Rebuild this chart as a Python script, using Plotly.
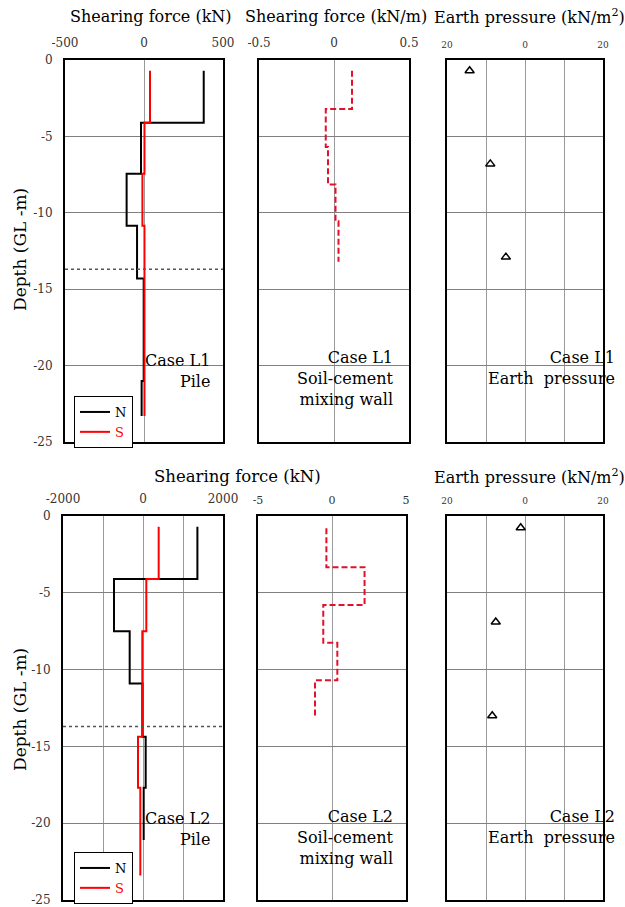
import plotly.graph_objects as go

# ---------------- data ----------------
# Case L1 - pile shearing force (kN): segment boundaries (depth, m) and values
L1_N_depth = [-0.7, -4.1, -7.45, -10.85, -14.3, -21.0, -23.3]
L1_N_force = [378, -19, -110, -44, -2, -15]
L1_S_depth = [-0.7, -4.1, -7.45, -10.85, -23.3]
L1_S_force = [38, 3, -10, 3]
# Case L1 - soil-cement mixing wall shearing force (kN/m)
L1_wall_depth = [-0.7, -3.2, -5.7, -8.15, -10.55, -13.2]
L1_wall_force = [0.12, -0.055, -0.04, 0.01, 0.03]
# Case L1 - earth pressure (kN/m2)
L1_ep_depth = [-0.7, -6.8, -12.9]
L1_ep_value = [-14.2, -8.9, -4.9]

# Case L2 - pile shearing force (kN)
L2_N_depth = [-0.7, -4.1, -7.5, -10.9, -14.37, -17.7, -21.1]
L2_N_force = [1360, -725, -333, -15, 67, 17]
L2_S_depth = [-0.7, -4.1, -7.5, -14.37, -17.7, -23.4]
L2_S_force = [392, 83, -17, -125, -67]
# Case L2 - soil-cement mixing wall shearing force (kN)
L2_wall_depth = [-0.8, -3.33, -5.8, -8.26, -10.7, -13.15]
L2_wall_force = [-0.38, 2.2, -0.59, 0.36, -1.15]
# Case L2 - earth pressure (kN/m2)
L2_ep_depth = [-0.76, -6.9, -13.0]
L2_ep_value = [-1.1, -7.5, -8.4]

GWL_depth = -13.7  # dotted level line in the pile panels

depth_ticks = [0, -5, -10, -15, -20, -25]
depth_labels = ["0", "-5", "-10", "-15", "-20", "-25"]
x_ticks_1 = [-500, 0, 500]
x_labels_1 = ["-500", "0", "500"]
x_ticks_2 = [-0.5, 0, 0.5]
x_labels_2 = ["-0.5", "0", "0.5"]
x_ticks_ep = [-20, 0, 20]
x_labels_ep = ["20", "0", "20"]
x_minor_ep = 10
x_ticks_4 = [-2000, 0, 2000]
x_labels_4 = ["-2000", "0", "2000"]
x_minor_4 = 1000
x_ticks_5 = [-5, 0, 5]
x_labels_5 = ["-5", "0", "5"]

# ---------------- layout helpers ----------------
W, H = 625, 907
FONT = "DejaVu Serif"


def step_xy(depths, values):
    xs, ys = [], []
    for i, v in enumerate(values):
        xs += [v, v]
        ys += [depths[i], depths[i + 1]]
    return xs, ys


def xdom(a, b):
    return [a / W, b / W]


def ydom(top, bottom):
    return [1 - bottom / H, 1 - top / H]


panels = {
    1: dict(box=(65, 223, 60, 442), rng=[-500, 500], tv=x_ticks_1, tt=x_labels_1, fs=12, ylab=True, minor=None),
    2: dict(box=(259, 409, 60, 442), rng=[-0.5, 0.5], tv=x_ticks_2, tt=x_labels_2, fs=12, ylab=False, minor=None),
    3: dict(box=(447, 603, 60, 442), rng=[-20, 20], tv=x_ticks_ep, tt=x_labels_ep, fs=9, ylab=False, minor=x_minor_ep),
    4: dict(box=(63, 223, 516, 900), rng=[-2000, 2000], tv=x_ticks_4, tt=x_labels_4, fs=12, ylab=True, minor=x_minor_4),
    5: dict(box=(258, 406, 516, 900), rng=[-5, 5], tv=x_ticks_5, tt=x_labels_5, fs=11, ylab=False, minor=None),
    6: dict(box=(447, 603, 516, 900), rng=[-20, 20], tv=x_ticks_ep, tt=x_labels_ep, fs=9, ylab=False, minor=x_minor_ep),
}

fig = go.Figure()

RED = "#ff0000"
WALL_RED = "#e3102a"


def add_pile(n_d, n_v, s_d, s_v, ax, legend):
    xs, ys = step_xy(n_d, n_v)
    fig.add_trace(go.Scatter(x=xs, y=ys, mode="lines", name="N",
                             line=dict(color="black", width=2),
                             xaxis="x" + ax, yaxis="y" + ax, legend=legend))
    xs, ys = step_xy(s_d, s_v)
    fig.add_trace(go.Scatter(x=xs, y=ys, mode="lines",
                             name="<span style='color:red'>S</span>",
                             line=dict(color=RED, width=2),
                             xaxis="x" + ax, yaxis="y" + ax, legend=legend))


def add_wall(d, v, ax):
    xs, ys = step_xy(d, v)
    fig.add_trace(go.Scatter(x=xs, y=ys, mode="lines", showlegend=False,
                             line=dict(color=WALL_RED, width=2, dash="6px,3px"),
                             xaxis="x" + ax, yaxis="y" + ax))


def add_ep(d, v, ax):
    fig.add_trace(go.Scatter(x=v, y=d, mode="markers", showlegend=False,
                             marker=dict(symbol="triangle-up-open", size=8,
                                         color="black", line=dict(width=1.5, color="black")),
                             xaxis="x" + ax, yaxis="y" + ax))


add_pile(L1_N_depth, L1_N_force, L1_S_depth, L1_S_force, "", "legend")
add_wall(L1_wall_depth, L1_wall_force, "2")
add_ep(L1_ep_depth, L1_ep_value, "3")
add_pile(L2_N_depth, L2_N_force, L2_S_depth, L2_S_force, "4", "legend2")
add_wall(L2_wall_depth, L2_wall_force, "5")
add_ep(L2_ep_depth, L2_ep_value, "6")

layout = dict(
    template="none",
    width=W, height=H, autosize=False,
    margin=dict(l=0, r=0, t=0, b=0, pad=0, autoexpand=False),
    paper_bgcolor="white", plot_bgcolor="white",
    font=dict(family=FONT, color="black"),
)

for k, p in panels.items():
    x0, x1, y0, y1 = p["box"]
    xname = "xaxis" if k == 1 else f"xaxis{k}"
    yname = "yaxis" if k == 1 else f"yaxis{k}"
    yref = "y" if k == 1 else f"y{k}"
    xref = "x" if k == 1 else f"x{k}"
    xa = dict(
        domain=xdom(x0, x1), anchor=yref, side="top", range=p["rng"],
        tickmode="array", tickvals=p["tv"], ticktext=p["tt"],
        showgrid=True, gridcolor="#9a9a9a", gridwidth=1, zeroline=False,
        showline=True, mirror=True, linecolor="black", linewidth=2,
        ticks="", ticklabelstandoff=6, automargin=False,
        ticklabeloverflow="allow",
        tickfont=dict(family=FONT, size=p["fs"], color="#333"),
        fixedrange=True,
    )
    if p["minor"]:
        xa["minor"] = dict(dtick=p["minor"], tick0=0, showgrid=True,
                           gridcolor="#9a9a9a", gridwidth=1, ticks="")
    layout[xname] = xa
    layout[yname] = dict(
        domain=ydom(y0, y1), anchor=xref, range=[-25, 0],
        tickmode="array", tickvals=depth_ticks, ticktext=depth_labels,
        showticklabels=p["ylab"],
        showgrid=True, gridcolor="#808080", gridwidth=1, zeroline=False,
        showline=True, mirror=True, linecolor="black", linewidth=2,
        ticks="", ticklabelstandoff=8, automargin=False,
        ticklabeloverflow="allow",
        tickfont=dict(family=FONT, size=12, color="#333"),
        fixedrange=True,
    )

legend_common = dict(
    bgcolor="white", bordercolor="black", borderwidth=1,
    font=dict(family=FONT, size=13, color="black"),
    itemwidth=30, xanchor="left", yanchor="top", tracegroupgap=0,
)
layout["legend"] = dict(legend_common, x=74 / W, y=1 - 396 / H)
layout["legend2"] = dict(legend_common, x=74 / W, y=1 - 852 / H)

fig.update_layout(**layout)

# dotted level line in the pile panels
for ax in ["", "4"]:
    fig.add_shape(type="line", xref=("x" + ax) + " domain", yref="y" + ax,
                  x0=0, x1=1, y0=GWL_depth, y1=GWL_depth,
                  line=dict(color="#555", width=1.5, dash="dot"))


def px_ann(text, x, y, xanchor="center", yanchor="middle", size=16, angle=0, align="center"):
    fig.add_annotation(text=text, xref="paper", yref="paper", x=x / W, y=1 - y / H,
                       xanchor=xanchor, yanchor=yanchor, showarrow=False,
                       textangle=angle, align=align,
                       font=dict(family=FONT, size=size, color="black"))


# axis titles
px_ann("Shearing force (kN)", 68, 17, xanchor="left")
px_ann("Shearing force (kN/m)", 243, 17, xanchor="left")
px_ann("Earth pressure (kN/m<sup>2</sup>)", 432, 17, xanchor="left")
px_ann("Shearing force (kN)", 152, 476, xanchor="left", size=16.5)
px_ann("Earth pressure (kN/m<sup>2</sup>)", 432, 476, xanchor="left")
px_ann("Depth (GL -m)", 20, 250, angle=-90, size=17)
px_ann("Depth (GL -m)", 20, 710, angle=-90, size=17)

# case labels
px_ann("Case L1<br>Pile", 212, 371, xanchor="right", align="right")
px_ann("Case L1<br>Soil-cement<br>mixing wall", 396, 378, xanchor="right", align="right")
px_ann("Case L1<br>Earth  pressure", 617, 368, xanchor="right", align="right")
px_ann("Case L2<br>Pile", 212, 829, xanchor="right", align="right")
px_ann("Case L2<br>Soil-cement<br>mixing wall", 396, 837, xanchor="right", align="right")
px_ann("Case L2<br>Earth  pressure", 617, 827, xanchor="right", align="right")

fig.write_html("out.html")
